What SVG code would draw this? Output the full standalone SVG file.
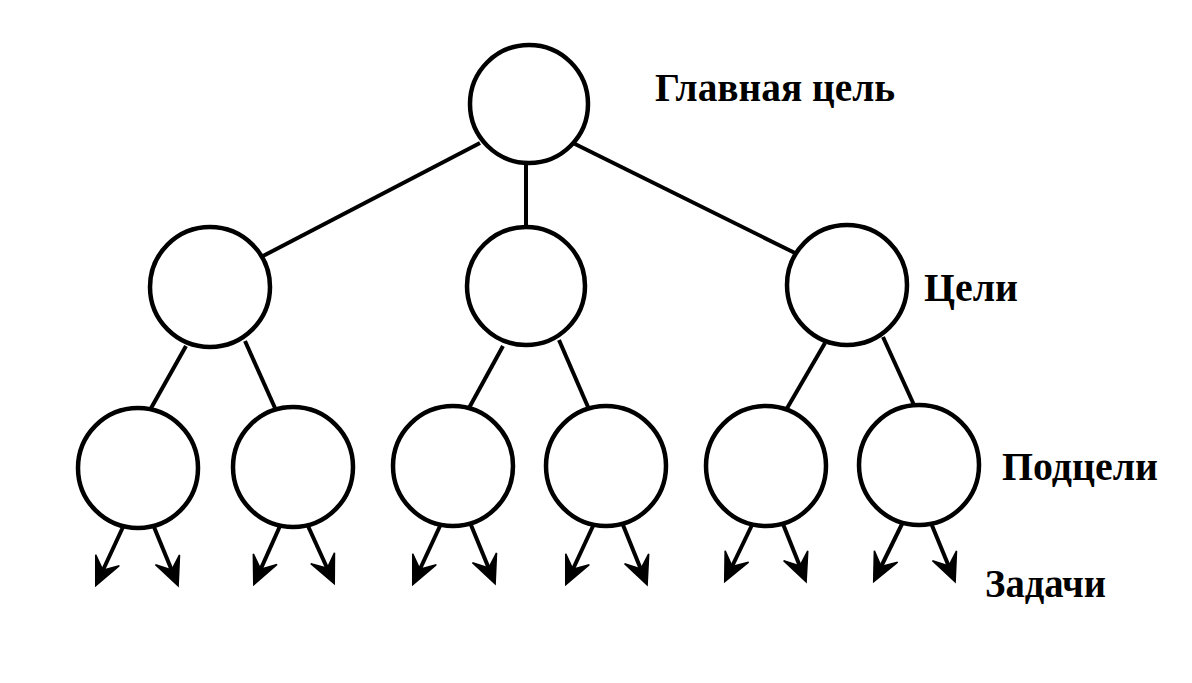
<svg xmlns="http://www.w3.org/2000/svg" width="1192" height="683" viewBox="0 0 1192 683">
<style>
.n{fill:#fff;stroke:#000;stroke-width:4.5}
.c line{stroke:#000;stroke-width:4}
.a{marker-end:url(#ah)}
.t{font-family:"Liberation Serif","Times New Roman",serif;font-weight:bold;font-size:41px;fill:#000}
</style>
<defs>
<marker id="ah" markerUnits="userSpaceOnUse" viewBox="-30 -15 34 30" refX="0" refY="0" markerWidth="34" markerHeight="30" orient="auto" overflow="visible">
<path d="M3,0 L-25,-13 L-14,0 L-25,13 Z" fill="#000" stroke="#000" stroke-width="1.5" stroke-linejoin="miter"/>
</marker>
</defs>
<rect width="1192" height="683" fill="#fff"/>
<g id="connectors" class="c">
<line x1="480" y1="143" x2="263" y2="256"/>
<line x1="526" y1="164" x2="526" y2="226"/>
<line x1="573" y1="143" x2="795" y2="253"/>
<line x1="186" y1="346" x2="150" y2="410"/>
<line x1="245" y1="341" x2="275" y2="408"/>
<line x1="503" y1="346" x2="469" y2="408"/>
<line x1="559" y1="340" x2="588" y2="407"/>
<line x1="825" y1="343" x2="786" y2="410"/>
<line x1="883" y1="337" x2="914" y2="405"/>
<line class="a" x1="123" y1="527" x2="97" y2="583"/>
<line class="a" x1="154" y1="527" x2="177" y2="583"/>
<line class="a" x1="280" y1="526" x2="255" y2="582"/>
<line class="a" x1="308" y1="526" x2="333" y2="581"/>
<line class="a" x1="440" y1="526" x2="414" y2="582"/>
<line class="a" x1="471" y1="525" x2="494" y2="581"/>
<line class="a" x1="593" y1="526" x2="567" y2="582"/>
<line class="a" x1="623" y1="525" x2="646" y2="582"/>
<line class="a" x1="752" y1="525" x2="726" y2="579"/>
<line class="a" x1="783" y1="524" x2="805" y2="579"/>
<line class="a" x1="902" y1="524" x2="875" y2="579"/>
<line class="a" x1="931" y1="523" x2="954" y2="579"/>
</g>
<g id="n0"><circle class="n" cx="529" cy="104" r="59"/></g>
<g id="n1"><circle class="n" cx="210" cy="287" r="60"/></g>
<g id="n2"><circle class="n" cx="526" cy="286" r="59"/></g>
<g id="n3"><circle class="n" cx="847" cy="285" r="60"/></g>
<g id="n4"><circle class="n" cx="138" cy="468" r="60"/></g>
<g id="n5"><circle class="n" cx="293" cy="467" r="60"/></g>
<g id="n6"><circle class="n" cx="453" cy="466" r="60"/></g>
<g id="n7"><circle class="n" cx="606" cy="466" r="60"/></g>
<g id="n8"><circle class="n" cx="766" cy="466" r="60"/></g>
<g id="n9"><circle class="n" cx="919" cy="465" r="60"/></g>
<g id="labels">
<text class="t" x="655" y="101" textLength="240" lengthAdjust="spacingAndGlyphs">Главная цель</text>
<text class="t" x="924" y="301" textLength="94" lengthAdjust="spacingAndGlyphs">Цели</text>
<text class="t" x="1002" y="480" textLength="156" lengthAdjust="spacingAndGlyphs">Подцели</text>
<text class="t" x="985" y="597" textLength="121" lengthAdjust="spacingAndGlyphs">Задачи</text>
</g>
</svg>
